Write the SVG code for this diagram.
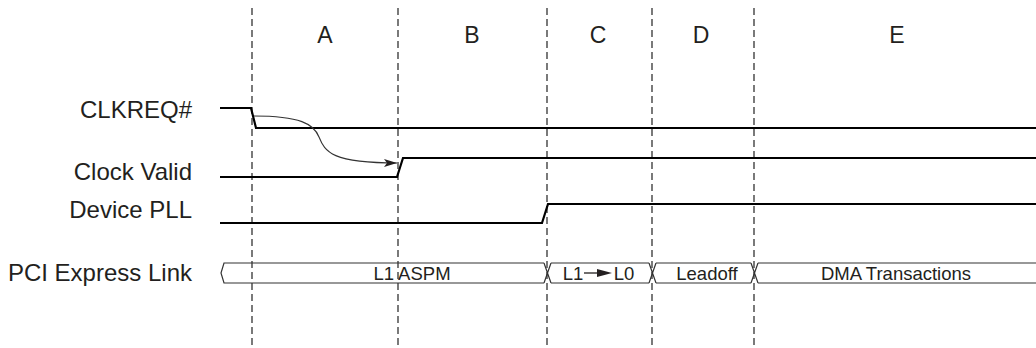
<svg xmlns="http://www.w3.org/2000/svg" width="1036" height="348" viewBox="0 0 1036 348">
<style>
.lbl{font-family:"Liberation Sans",Arial,sans-serif;font-size:24px;fill:#231f20;text-anchor:end}
.ph{font-family:"Liberation Sans",Arial,sans-serif;font-size:23px;fill:#231f20;text-anchor:middle}
.bt{font-family:"Liberation Sans",Arial,sans-serif;font-size:18.5px;fill:#231f20;text-anchor:middle}
.dash{stroke:#333;stroke-width:1.3;stroke-dasharray:7 4;fill:none}
.sig{stroke:#000;stroke-width:2.2;fill:none}
.bus{stroke:#333;stroke-width:1.2;fill:none}
</style>
<defs>
<marker id="ah" markerWidth="14" markerHeight="8" refX="13" refY="4" orient="auto" markerUnits="userSpaceOnUse">
<path d="M0,0 L13,4 L0,8 L3,4 Z" fill="#231f20"/>
</marker>
</defs>
<g id="phases">
<line class="dash" x1="252" y1="8" x2="252" y2="348"/>
<line class="dash" x1="398" y1="8" x2="398" y2="348"/>
<line class="dash" x1="547" y1="8" x2="547" y2="348"/>
<line class="dash" x1="652" y1="8" x2="652" y2="348"/>
<line class="dash" x1="754" y1="8" x2="754" y2="348"/>
<text class="ph" x="325" y="43">A</text>
<text class="ph" x="472" y="43">B</text>
<text class="ph" x="598" y="43">C</text>
<text class="ph" x="701" y="43">D</text>
<text class="ph" x="897" y="43">E</text>
</g>
<g id="clkreq">
<text class="lbl" x="192" y="118">CLKREQ#</text>
<polyline class="sig" points="220,108 251,108 256,128 1036,128"/>
</g>
<g id="clockvalid">
<text class="lbl" x="192" y="180">Clock Valid</text>
<polyline class="sig" points="220,177 397,177 403,158 1036,158"/>
</g>
<g id="devicepll">
<text class="lbl" x="192" y="218">Device PLL</text>
<polyline class="sig" points="220,223 542,223 548,204 1036,204"/>
</g>
<g id="link">
<text class="lbl" x="192" y="281">PCI Express Link</text>
<path class="bus" d="M544,263 L224,263 L221,273 L224,283 L544,283"/>
<path class="bus" d="M544,263 L551,283 M551,263 L544,283"/>
<path class="bus" d="M551,263 L649,263 M551,283 L649,283"/>
<path class="bus" d="M649,263 L656,283 M656,263 L649,283"/>
<path class="bus" d="M656,263 L751,263 M656,283 L751,283"/>
<path class="bus" d="M751,263 L758,283 M758,263 L751,283"/>
<path class="bus" d="M758,263 L1036,263 M758,283 L1036,283"/>
<text class="bt" x="412" y="280">L1 ASPM</text>
<text class="bt" x="573" y="280">L1</text>
<line x1="584" y1="273" x2="600" y2="273" stroke="#231f20" stroke-width="1.3"/>
<path d="M597,269 L612,273 L597,277 Z" fill="#231f20"/>
<text class="bt" x="624" y="280">L0</text>
<text class="bt" x="707" y="280">Leadoff</text>
<text class="bt" x="896" y="280">DMA Transactions</text>
</g>
<g id="connectors">
<path d="M254,116 C300,116 314,124 319,137 C325,152 332,163 397,163" stroke="#333" stroke-width="1.1" fill="none" marker-end="url(#ah)"/>
</g>
</svg>
